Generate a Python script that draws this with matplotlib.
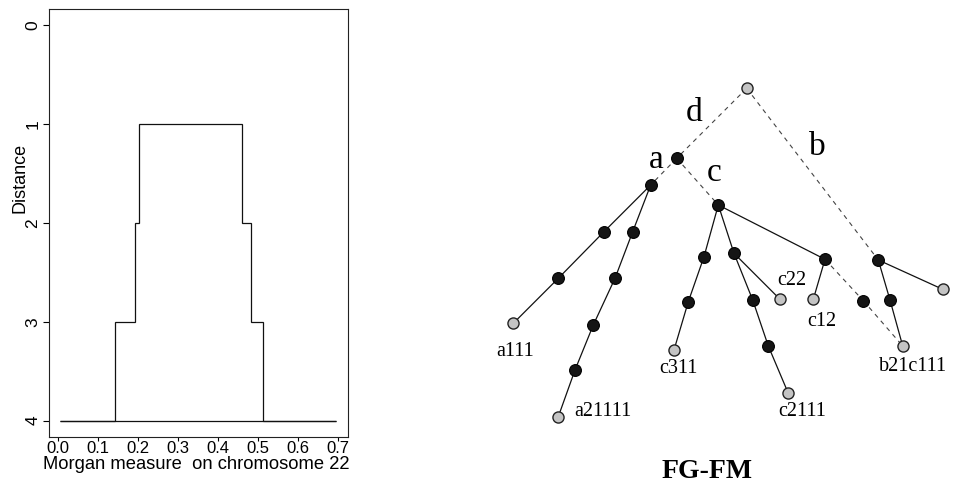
import matplotlib
matplotlib.use('agg')
import matplotlib.pyplot as plt

# left panel: distance profile along chromosome 22
morgan_edges = [0.004, 0.142, 0.192, 0.2025, 0.46, 0.481, 0.5125, 0.695]
distance_levels = [4, 3, 2, 1, 2, 3, 4]
x_ticks = [0.0, 0.1, 0.2, 0.3, 0.4, 0.5, 0.6, 0.7]
y_ticks = [0, 1, 2, 3, 4]

# right panel: tree nodes (name -> x, y)
node_names = ['root', 'a', 'A1', 'L1', 'L2', 'a111', 'R1', 'R2', 'R3', 'R4', 'a21111',
              'C', 'C1a', 'C1b', 'c311', 'C2', 'c22', 'C2b', 'C2c', 'c2111',
              'C3', 'c12', 'D1', 'b21c111', 'B', 'Bleaf', 'B1']
node_x = [746.7, 676.7, 650.7, 604.0, 558.3, 513.3, 632.7, 615.0, 593.3, 575.0, 558.3,
          718.3, 704.0, 688.3, 674.0, 734.0, 780.0, 752.7, 768.3, 788.3,
          825.0, 813.3, 863.3, 902.7, 878.3, 942.7, 890.0]
node_y = [88.3, 158.3, 185.0, 231.7, 278.3, 323.3, 231.7, 278.3, 325.0, 370.0, 416.7,
          205.0, 256.7, 301.7, 350.0, 253.3, 299.3, 300.0, 346.0, 393.3,
          259.3, 299.3, 300.7, 346.0, 260.0, 289.3, 300.0]
leaf_nodes = ['root', 'a111', 'a21111', 'c311', 'c22', 'c2111', 'c12', 'b21c111', 'Bleaf']

solid_edges = [('A1', 'L1'), ('L1', 'L2'), ('L2', 'a111'),
               ('A1', 'R1'), ('R1', 'R2'), ('R2', 'R3'), ('R3', 'R4'), ('R4', 'a21111'),
               ('C', 'C1a'), ('C1a', 'C1b'), ('C1b', 'c311'),
               ('C', 'C2'), ('C2', 'c22'), ('C2', 'C2b'), ('C2b', 'C2c'), ('C2c', 'c2111'),
               ('C', 'C3'), ('C3', 'c12'),
               ('B', 'Bleaf'), ('B', 'B1'), ('B1', 'b21c111')]
dashed_edges = [('root', 'a'), ('a', 'A1'), ('a', 'C'), ('root', 'B'),
                ('C3', 'D1'), ('D1', 'b21c111')]

leaf_labels = ['a111', 'a21111', 'c311', 'c22', 'c12', 'c2111', 'b21c111']
leaf_label_x = [515, 603, 678, 791.7, 821.7, 801.7, 913]
leaf_label_y = [351, 411.7, 368, 280, 321.7, 411.7, 366.7]

branch_labels = ['d', 'a', 'b', 'c']
branch_label_x = [694, 656, 817, 713.7]
branch_label_y = [113, 160, 147, 172.5]

sans = ['Liberation Sans', 'DejaVu Sans']
serif = ['Liberation Serif', 'DejaVu Serif']

fig = plt.figure(figsize=(9.56, 4.86), dpi=100)

# ---- left panel
ax = fig.add_axes([0.0516, 0.1014, 0.3127, 0.8795])
ax.stairs(distance_levels, morgan_edges, baseline=None, color='#111111', lw=0.9)
ax.hlines(4, morgan_edges[0], morgan_edges[-1], color='#111111', lw=0.9)
ax.set_xlim(-0.0225, 0.725)
ax.set_ylim(4.163, -0.159)
ax.set_xticks(x_ticks)
ax.set_xticklabels([f'{t:.1f}' for t in x_ticks], family=sans, fontsize=12)
ax.set_yticks(y_ticks)
ax.set_yticklabels([str(t) for t in y_ticks], family=sans, fontsize=12.5,
                   rotation=90, va='center')
ax.tick_params(axis='x', length=3, pad=0, width=0.8)
ax.tick_params(axis='y', length=4, pad=2.5, width=0.8)
for s in ax.spines.values():
    s.set_linewidth(0.8)
    s.set_color('#222222')
fig.text(196.7 / 956, 1 - 464 / 486, 'Morgan measure  on chromosome 22',
         family=sans, fontsize=13.2, ha='center', va='center')
fig.text(20 / 956, 1 - 177.5 / 486, 'Distance', family=sans, fontsize=13,
         rotation=90, ha='center', va='center')

# ---- right panel: tree
ax2 = fig.add_axes([478 / 956, 0, 478 / 956, 1])
ax2.set_xlim(478, 956)
ax2.set_ylim(486, 0)
ax2.axis('off')

pos = {n: (x, y) for n, x, y in zip(node_names, node_x, node_y)}
for u, v in solid_edges:
    ax2.plot([pos[u][0], pos[v][0]], [pos[u][1], pos[v][1]], color='#111111', lw=0.9, zorder=1)
for u, v in dashed_edges:
    ax2.plot([pos[u][0], pos[v][0]], [pos[u][1], pos[v][1]], color='#444444', lw=0.8,
             dashes=(4, 4), zorder=1)

for n in node_names:
    if n in leaf_nodes:
        ax2.plot(*pos[n], 'o', ms=8, mfc='#c4c4c4', mec='#222222', mew=1.0, zorder=3)
    else:
        ax2.plot(*pos[n], 'o', ms=8.5, mfc='#151515', mec='#000000', mew=0.8, zorder=3)

for t, x, y in zip(leaf_labels, leaf_label_x, leaf_label_y):
    ax2.text(x, y, t, family=serif, fontsize=14.5, ha='center', va='center')
for t, x, y in zip(branch_labels, branch_label_x, branch_label_y):
    ax2.text(x, y, t, family=serif, fontsize=24, ha='center', va='center')

ax2.text(707.5, 471, 'FG-FM', family=serif, fontsize=20, fontweight='bold',
         ha='center', va='center')

fig.savefig('out.png', dpi=100)
